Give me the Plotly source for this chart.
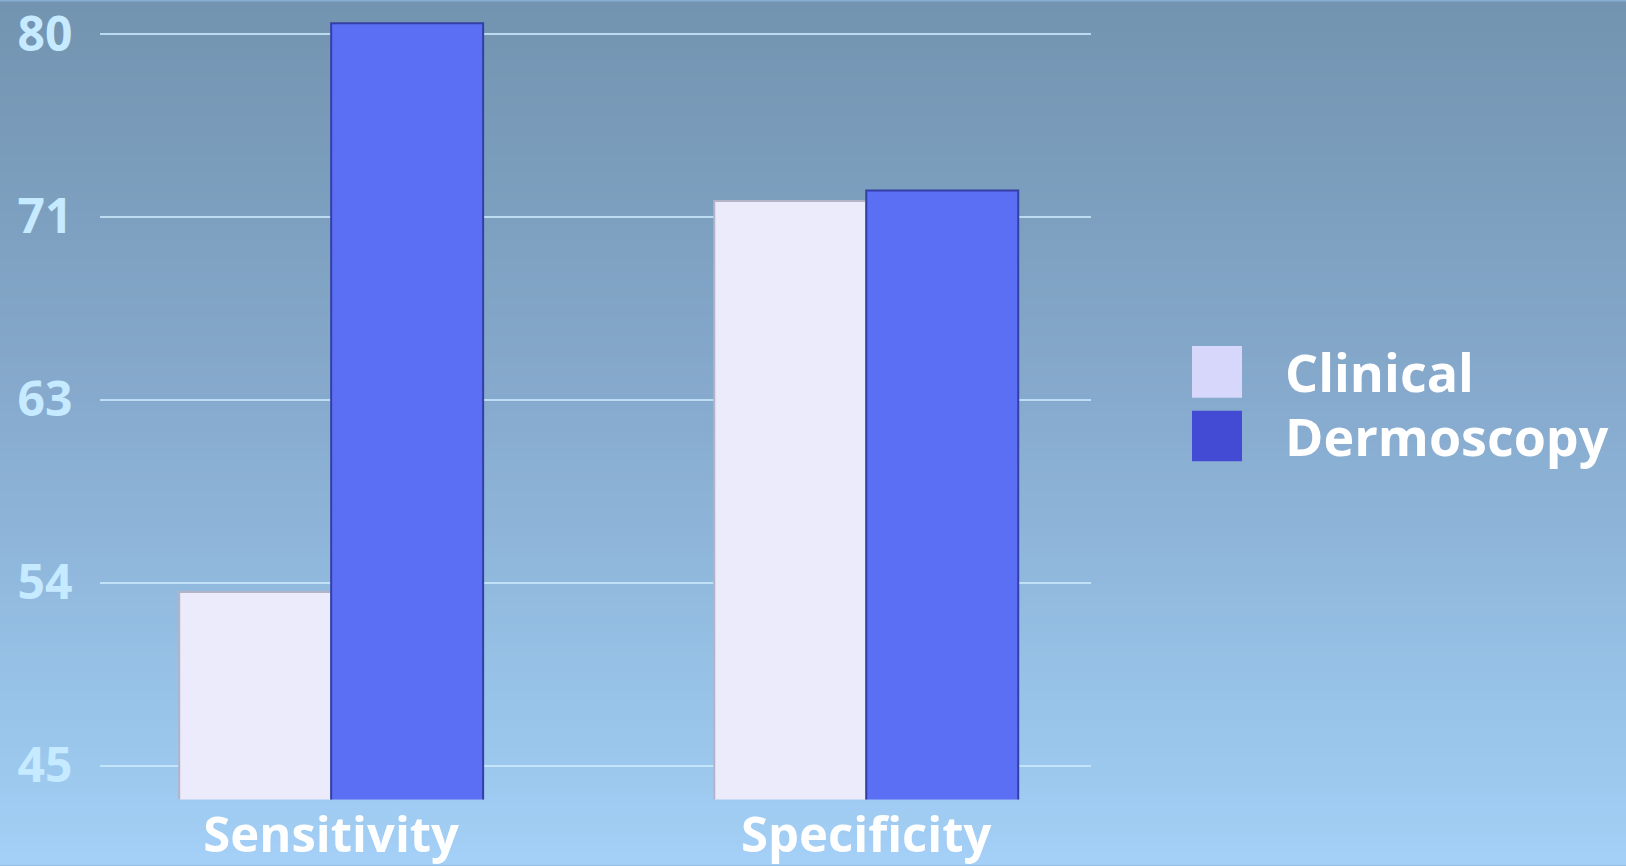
import plotly.graph_objects as go

# ---- data ----
categories = ["Sensitivity", "Specificity"]
series_names = ["Clinical", "Dermoscopy"]
clinical = [53.3, 72.0]
dermoscopy = [80.5, 72.5]
tick_vals = [45, 53.75, 62.5, 71.25, 80]
tick_text = ["45", "54", "63", "71", "80"]

# ---- styles ----
bar_colors = ["#ecebfb", "#5b6ff5"]
bar_line_colors = ["#b4b3c8", "#343fa6"]
legend_colors = ["#d7d7fc", "#434bd4"]
FONT = "Open Sans"

# reference frame (pixels) -> paper fractions, so the layout scales with the page
RW, RH = 1626, 866
def fx(px):
    return px / RW
def fy(py):
    return 1 - py / RH

fig = go.Figure()
for name, vals, col, lcol in zip(series_names, [clinical, dermoscopy], bar_colors, bar_line_colors):
    fig.add_trace(go.Bar(
        x=categories, y=vals, name=name,
        marker=dict(color=col, line=dict(color=lcol, width=2)),
        showlegend=False, hoverinfo="skip",
    ))

# background vertical gradient (stops in reference pixel rows)
stops = [(0, (115, 148, 176)), (400, (134, 170, 205)), (700, (152, 195, 232)), (866, (164, 207, 246))]

def color_at(py):
    for (y0, c0), (y1, c1) in zip(stops[:-1], stops[1:]):
        if y0 <= py <= y1:
            t = (py - y0) / (y1 - y0)
            return "rgb(%d,%d,%d)" % tuple(round(a + (b - a) * t) for a, b in zip(c0, c1))
    return "rgb(%d,%d,%d)" % stops[-1][1]

shapes = []
nb = 90
for i in range(nb):
    py0 = RH * i / nb - 1.5
    py1 = RH * (i + 1) / nb + 1.5
    shapes.append(dict(
        type="rect", xref="paper", yref="paper",
        x0=-0.01, x1=1.01, y0=fy(py1), y1=fy(py0),
        fillcolor=color_at((py0 + py1) / 2), line=dict(width=0), layer="below",
    ))

# manual legend (large squares)
annotations = []
leg_rows = [(345, 397), (410, 461)]
for (y0, y1), nm, col in zip(leg_rows, series_names, legend_colors):
    shapes.append(dict(
        type="rect", xref="paper", yref="paper",
        x0=fx(1192), x1=fx(1242), y0=fy(y1), y1=fy(y0),
        fillcolor=col, line=dict(width=0),
    ))
    annotations.append(dict(
        text=nm, xref="paper", yref="paper",
        x=fx(1283), y=fy((y0 + y1) / 2),
        xanchor="left", yanchor="middle", showarrow=False,
        font=dict(family=FONT, size=52, color="white", weight="bold"),
    ))

fig.update_layout(
    autosize=True,
    margin=dict(l=0, r=0, t=0, b=0, pad=0),
    paper_bgcolor="#88aed2", plot_bgcolor="rgba(0,0,0,0)",
    barmode="group", bargap=0.432, bargroupgap=0.0,
    shapes=shapes, annotations=annotations,
    xaxis=dict(
        domain=[fx(100), fx(1091)],
        range=[-0.432, 1.42], showgrid=False, zeroline=False, showline=False,
        ticks="", ticklabelstandoff=3, ticklabeloverflow="allow",
        tickfont=dict(family=FONT, size=49, color="white", weight="bold"),
    ),
    yaxis=dict(
        domain=[fy(801), 1.0],
        range=[43.38, 81.47], tickvals=tick_vals, ticktext=tick_text,
        showgrid=True, gridcolor="rgba(205,235,252,0.8)", gridwidth=2,
        zeroline=False, showline=False,
        ticks="outside", ticklen=17, tickcolor="rgba(0,0,0,0)",
        ticklabeloverflow="allow",
        tickfont=dict(family=FONT, size=48, color="#c6eaff", weight="bold"),
    ),
    showlegend=False,
)

fig.write_html(
    "out.html",
    config={"displayModeBar": False, "responsive": True},
    default_height="100vh",
    default_width="100vw; position:fixed; top:0; left:0",
    post_script="document.body.style.margin='0';document.body.style.overflow='hidden';document.body.style.background='#88aed2';",
)
